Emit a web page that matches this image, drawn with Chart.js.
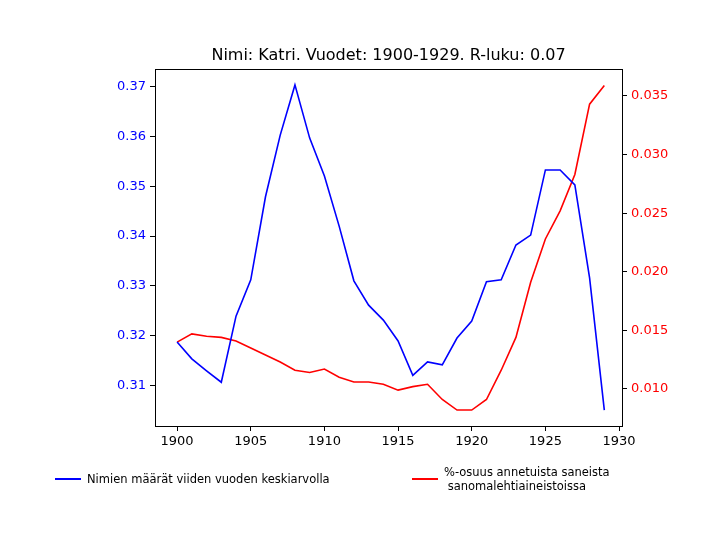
<!DOCTYPE html>
<html>
<head>
<meta charset="utf-8">
<script src="https://cdn.jsdelivr.net/npm/chart.js@4/dist/chart.umd.min.js"></script>
<style>
  body { margin: 0; background: #fff; font-family: "DejaVu Sans", sans-serif; }
  #wrap { position: relative; width: 721px; height: 548px; }
  .leg { position: absolute; font-size: 11.5px; line-height: 14px; color: #000; }
  .leg span.ln { position: absolute; left: 0; top: 6px; width: 26px; height: 2px; }
</style>
</head>
<body>
<div id="wrap">
  <canvas id="chart" width="721" height="548"></canvas>
  <div class="leg" style="left:55px; top:472px;"><span class="ln" style="background:#0000ff"></span><div style="margin-left:32px">Nimien määrät viiden vuoden keskiarvolla</div></div>
  <div class="leg" style="left:412px; top:465px;"><span class="ln" style="background:#ff0000; top:13px"></span><div style="margin-left:32px">%-osuus annetuista saneista<br>&nbsp;sanomalehtiaineistoissa</div></div>
</div>
<script>
// Years and values
const years = [1900, 1901, 1902, 1903, 1904, 1905, 1906, 1907, 1908, 1909,
               1910, 1911, 1912, 1913, 1914, 1915, 1916, 1917, 1918, 1919,
               1920, 1921, 1922, 1923, 1924, 1925, 1926, 1927, 1928, 1929];
const nameCounts = [0.3187, 0.3153, 0.3129, 0.3106, 0.3239, 0.3312, 0.3479, 0.3603, 0.3704, 0.3597,
                    0.3521, 0.3420, 0.3310, 0.3261, 0.3231, 0.3189, 0.3120, 0.3147, 0.3141, 0.3195,
                    0.3229, 0.3308, 0.3312, 0.3382, 0.3402, 0.3533, 0.3533, 0.3503, 0.3316, 0.3050];
const shares = [0.0140, 0.0147, 0.0145, 0.0144, 0.0141, 0.0135, 0.0129, 0.0123, 0.0116, 0.0114,
                0.0117, 0.0110, 0.0106, 0.0106, 0.0104, 0.0099, 0.0102, 0.0104, 0.0091, 0.0082,
                0.0082, 0.0091, 0.0116, 0.0144, 0.0191, 0.0228, 0.0252, 0.0283, 0.0343, 0.0359];
const xTicks = [1900, 1905, 1910, 1915, 1920, 1925, 1930];
const leftTicks = [0.31, 0.32, 0.33, 0.34, 0.35, 0.36, 0.37];
const rightTicks = [0.010, 0.015, 0.020, 0.025, 0.030, 0.035];
const titleText = 'Nimi: Katri. Vuodet: 1900-1929. R-luku: 0.07';

const font = { family: 'DejaVu Sans', size: 13 };
const axisGrid = { drawOnChartArea: false, color: '#000', tickLength: 5, tickWidth: 1 };

new Chart(document.getElementById('chart'), {
    type: 'line',
    data: {
        datasets: [{
            data: years.map((y, i) => ({ x: y, y: nameCounts[i] })),
            borderColor: '#0000ff',
            borderWidth: 1.6,
            pointRadius: 0,
            yAxisID: 'y'
        }, {
            data: years.map((y, i) => ({ x: y, y: shares[i] })),
            borderColor: '#ff0000',
            borderWidth: 1.6,
            pointRadius: 0,
            yAxisID: 'y2'
        }]
    },
    options: {
        responsive: false,
        animation: false,
        layout: { padding: { top: 69 } },
        plugins: {
            legend: { display: false },
            tooltip: { enabled: false }
        },
        scales: {
            x: {
                type: 'linear',
                min: 1898.5,
                max: 1930.2,
                afterBuildTicks: s => { s.ticks = xTicks.map(v => ({ value: v })); },
                afterFit: s => { s.height = 122; },
                ticks: { color: '#000', font, maxRotation: 0, padding: 3, callback: v => String(v) },
                grid: axisGrid,
                border: { color: '#000' }
            },
            y: {
                position: 'left',
                min: 0.3018,
                max: 0.3736,
                afterBuildTicks: s => { s.ticks = leftTicks.map(v => ({ value: v })); },
                afterFit: s => { s.width = 155; },
                ticks: { color: '#0000ff', font, padding: 4, callback: v => v.toFixed(2) },
                grid: axisGrid,
                border: { color: '#000' }
            },
            y2: {
                position: 'right',
                min: 0.00684,
                max: 0.0373,
                afterBuildTicks: s => { s.ticks = rightTicks.map(v => ({ value: v })); },
                afterFit: s => { s.width = 99; },
                ticks: { color: '#ff0000', font, padding: 4, callback: v => v.toFixed(3) },
                grid: axisGrid,
                border: { color: '#000' }
            }
        }
    },
    plugins: [{
        id: 'frameAndTitle',
        afterDraw(chart) {
            const { ctx, chartArea: a } = chart;
            ctx.save();
            ctx.strokeStyle = '#000';
            ctx.lineWidth = 1;
            ctx.beginPath();
            ctx.moveTo(a.left, a.top + 0.5);
            ctx.lineTo(a.right, a.top + 0.5);
            ctx.stroke();
            // title centred over the plot area, like matplotlib
            ctx.fillStyle = '#000';
            ctx.font = '16px "DejaVu Sans"';
            ctx.textAlign = 'center';
            ctx.textBaseline = 'bottom';
            ctx.fillText(titleText, (a.left + a.right) / 2, a.top - 5);
            ctx.restore();
        }
    }]
});
</script>
</body>
</html>
